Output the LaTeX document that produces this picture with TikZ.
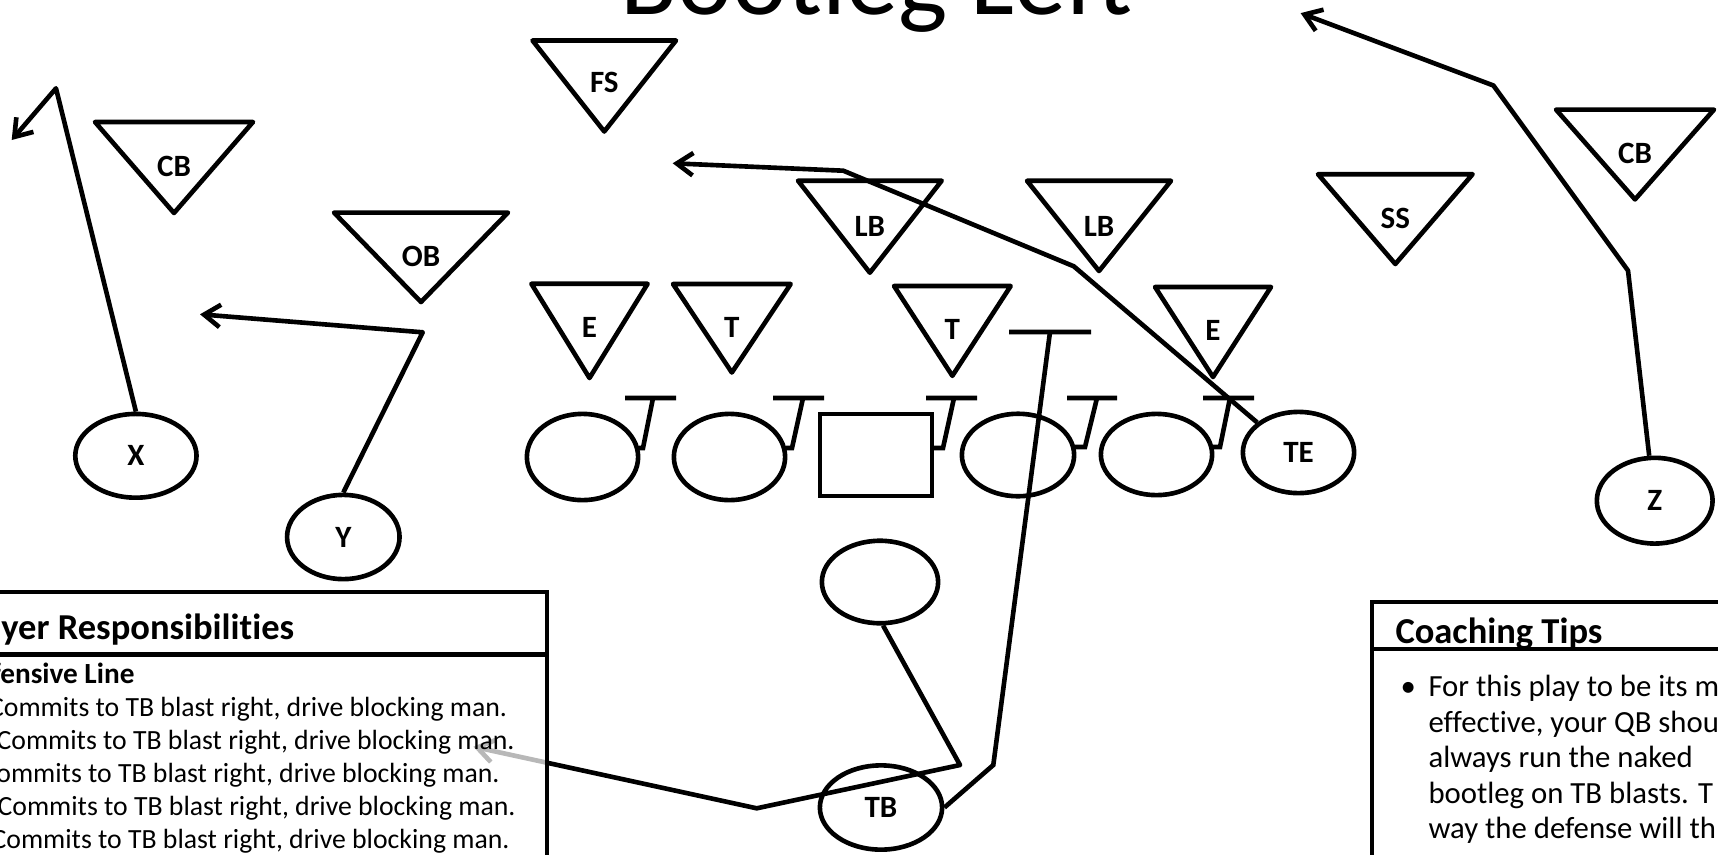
\documentclass[tikz,border=0pt]{standalone}
\usepackage{fontspec}
\setmainfont{Carlito}[Ligatures=NoCommon]
\usetikzlibrary{shapes.geometric,arrows.meta}
\tikzset{
  lw/.style={line width=1.85pt},
  defl/.style={draw, line width=1.85pt, line join=round},
  lab/.style={font=\bfseries\fontsize{12.4}{14}\selectfont, inner sep=0pt},
  player/.style={ellipse, draw, line width=1.85pt, inner sep=0pt, font=\bfseries\fontsize{12.4}{14}\selectfont},
  route/.style={draw, line width=1.85pt, line join=round, -{Straight Barb[length=6.5pt,width=9pt]}},
  blockline/.style={draw, line width=1.85pt, line join=miter},
  infobox/.style={draw, line width=1.7pt, fill=white, fill opacity=0.72},
  hdr/.style={font=\bfseries\fontsize{14.6}{17}\selectfont, inner sep=0pt},
  subhdr/.style={font=\bfseries\fontsize{11.7}{14}\selectfont, inner sep=0pt},
  bodyL/.style={font=\fontsize{11.1}{13}\selectfont, inner sep=0pt},
  bodyR/.style={font=\fontsize{12.3}{14}\selectfont, inner sep=0pt},
}
% name, x left, x right, y top, y apex, label y, label
\newcommand\dtri[7]{%
  \draw[defl] (#2,#4) -- (#3,#4) -- ({(#2+#3)/2},#5) -- cycle;
  \node[lab] (#1) at ({(#2+#3)/2},#6) {#7};}
\begin{document}
\begin{tikzpicture}[x=0.4pt,y=-0.4pt]
\useasboundingbox (0,0) rectangle (1718,854);
\fill[white] (0,0) rectangle (1718,854);

\node[anchor=base, font=\fontsize{41.7}{50}\selectfont, inner sep=0pt] (title) at (876.5,14) {Bootleg Left};

% defense
\dtri{cbl}{95}{253}{122}{213}{166}{CB}
\dtri{fs}{532.5}{676}{40.5}{131.5}{82}{FS}
\dtri{ob}{334}{508}{212.6}{302}{256.4}{OB}
\dtri{lba}{798}{941.7}{180.7}{272.7}{226.7}{LB}
\dtri{lbb}{1027}{1171}{180.8}{271}{226}{LB}
\dtri{ss}{1318}{1472.6}{174.2}{264}{218}{SS}
\dtri{cbr}{1556}{1714}{109.6}{199.4}{153.4}{CB}
\dtri{ea}{531.4}{647.6}{283.8}{378}{327.6}{E}
\dtri{ta}{673}{790.7}{284}{372.5}{327.6}{T}
\dtri{tb2}{894}{1010.7}{286}{375.8}{329.8}{T}
\dtri{eb}{1155}{1271}{287}{377}{330}{E}

% offense
\node[player, minimum width=48.5pt, minimum height=33.5pt] (x) at (135.9,455.8) {X};
\node[player, minimum width=45pt, minimum height=33.7pt] (y) at (343.3,537) {Y};
\node[player, minimum width=44.5pt, minimum height=34.5pt] (o1) at (582.5,457) {};
\node[player, minimum width=44.5pt, minimum height=34.5pt] (o2) at (729.5,457) {};
\node[draw, lw, minimum width=44.7pt, minimum height=32.7pt, inner sep=0pt] (c) at (876,455) {};
\node[player, minimum width=44.9pt, minimum height=33pt] (o3) at (1018,455) {};
\node[player, minimum width=44.5pt, minimum height=32.5pt] (o4) at (1156.5,454.5) {};
\node[player, minimum width=44.5pt, minimum height=32.5pt] (te) at (1298.5,452.5) {TE};
\node[player, minimum width=46.3pt, minimum height=34.3pt] (z) at (1654.7,500.7) {Z};
\node[player, minimum width=46.5pt, minimum height=33pt] (qb) at (880,582) {};
\node[player, minimum width=48.9pt, minimum height=33.7pt] (tb) at (881,807.5) {TB};

% blocks
\draw[blockline] (639,448) -- (643,448) -- (653,398) (625,398) -- (676,398);
\draw[blockline] (786,448) -- (792,448) -- (803,398) (773,398) -- (824,398);
\draw[blockline] (934,448) -- (943,448) -- (954,398) (926,398) -- (977,398);
\draw[blockline] (1075,447) -- (1085,447) -- (1097,398) (1067,398) -- (1117,398);
\draw[blockline] (1213,447) -- (1220,447) -- (1230,398) (1203,398) -- (1254,398);

% routes
\coordinate (xtip) at (11.7,140);
\draw[route] (x.north) -- (56,88.3) -- (xtip);
\coordinate (ytip) at (200,314.3);
\draw[route] (y.north) -- (422.7,332.3) -- (ytip);
\coordinate (tetip) at (672.7,163.3);
\draw[route] (te.144) -- (1073.8,266.3) -- (843.3,170.7) -- (tetip);
\coordinate (ztip) at (1300.6,13.1);
\draw[route] (z.97) -- (1628,270.6) -- (1493.4,85.5) -- (ztip);
\coordinate (qbtip) at (473.3,746.7);
\draw[route] (qb.-86) -- (960,765) -- (756.7,808.3) -- (qbtip);
\draw[blockline] (tb.east) -- (993.3,765) -- (1050,332) (1009,332) -- (1091,332);

% left box
\draw[infobox] (-10,592.3) rectangle (546.7,880);
\draw[lw] (-10,654.3) -- (546.7,654.3);
\node[hdr, anchor=base east] (hl) at (294.6,639) {Player Responsibilities};
\node[subhdr, anchor=base east] (sl) at (135,683.6) {Offensive Line};
\node[bodyL, anchor=base east] (l1) at (507.5,716) {Commits to TB blast right, drive blocking man.};
\node[bodyL, anchor=base east] (l2) at (515,749) {Commits to TB blast right, drive blocking man.};
\node[bodyL, anchor=base east] (l3) at (500,782) {Commits to TB blast right, drive blocking man.};
\node[bodyL, anchor=base east] (l4) at (516,815) {Commits to TB blast right, drive blocking man.};
\node[bodyL, anchor=base east] (l5) at (510,848) {Commits to TB blast right, drive blocking man.};

% right box
\draw[infobox] (1372,602) rectangle (1730,880);
\node[hdr, anchor=base west] (hr) at (1395,643) {Coaching Tips};
\draw[lw] (1372,649) -- (1730,649);
\node[bodyR, anchor=base west] (bul) at (1400,696.5) {•};
\node[bodyR, anchor=base west] (r1) at (1428,696.5) {For this play to be its m};
\node[bodyR, anchor=base west] (r2) at (1428,732) {effective, your QB shou};
\node[bodyR, anchor=base west] (r3) at (1428,767.5) {always run the naked};
\node[bodyR, anchor=base west] (r4) at (1428,803) {bootleg on TB blasts. T};
\node[bodyR, anchor=base west] (r5) at (1428,838.5) {way the defense will th};
\end{tikzpicture}
\end{document}
